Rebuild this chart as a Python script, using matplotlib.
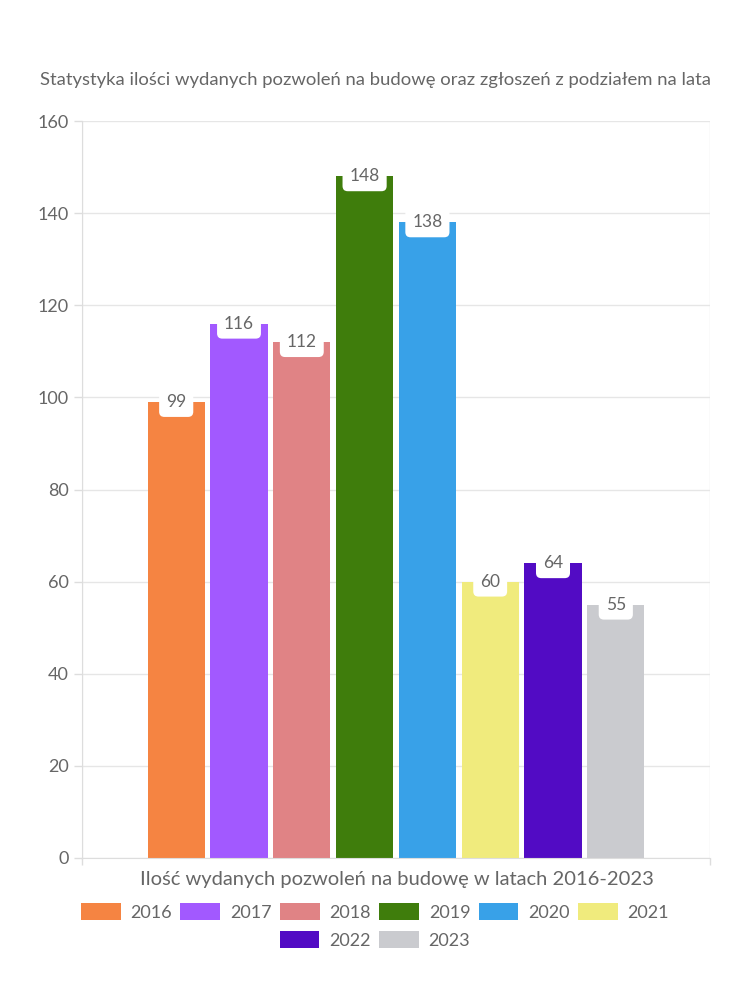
import matplotlib
matplotlib.use("Agg")
import matplotlib.pyplot as plt
from matplotlib.patches import Patch

years = ["2016", "2017", "2018", "2019", "2020", "2021", "2022", "2023"]
values = [99, 116, 112, 148, 138, 60, 64, 55]
colors = ["#F58442", "#A259FF", "#E08385", "#3F7D0C", "#38A1E8", "#F0EB7D", "#520BC4", "#CACBCF"]
title = "Statystyka ilości wydanych pozwoleń na budowę oraz zgłoszeń z podziałem na lata"
xlabel = "Ilość wydanych pozwoleń na budowę w latach 2016-2023"
yticks = [0, 20, 40, 60, 80, 100, 120, 140, 160]

plt.rcParams['font.family'] = ['Lato', 'DejaVu Sans']
txt = "#666666"

fig = plt.figure(figsize=(7.5, 10), dpi=100)
ax = fig.add_axes([82/750, 1-858/1000, 628/750, (858-121)/1000])

n = len(values)
slot = 0.8 / n
for i, (v, c) in enumerate(zip(values, colors)):
    x = (i - (n - 1) / 2) * slot
    ax.bar(x, v, width=slot * 0.91, color=c, zorder=2)
    ax.annotate(str(v), (x, v), xytext=(0, 0), textcoords="offset points",
                ha="center", va="center", fontsize=12.5, color=txt, zorder=4,
                bbox=dict(boxstyle="round,pad=0.4,rounding_size=0.3", fc="white", ec="none"))

ax.set_xlim(-0.5, 0.5)
ax.set_ylim(0, 160)
ax.set_yticks(yticks)
ax.set_xticks([-0.5, 0.5])
ax.set_xticklabels(["", ""])
ax.tick_params(axis="y", colors="#dddddd", labelcolor=txt, labelsize=13, length=6, width=1)
ax.tick_params(axis="x", colors="#dddddd", length=5, width=1)
ax.grid(axis="y", color="#e6e6e6", linewidth=1, zorder=0)
ax.grid(axis="x", color="#e6e6e6", linewidth=1, zorder=0)
for s in ax.spines.values():
    s.set_color("#dddddd")
ax.spines["top"].set_visible(False)
ax.spines["right"].set_visible(False)

fig.text(375/750, 1-80/1000, title, ha="center", va="center", fontsize=13.3, color=txt)
fig.text(397/750, 1-880/1000, xlabel, ha="center", va="center", fontsize=14.5, color=txt)

handles = [Patch(facecolor=c, edgecolor="none") for c in colors]
kw = dict(frameon=False, fontsize=13, handlelength=2.2, handleheight=1.0,
          columnspacing=0.45, handletextpad=0.55, labelcolor=txt, borderpad=0.2)
leg1 = fig.legend(handles[:6], years[:6], ncol=6, loc="center",
                  bbox_to_anchor=(375/750, 1-912/1000), **kw)
leg2 = fig.legend(handles[6:], years[6:], ncol=2, loc="center",
                  bbox_to_anchor=(375/750, 1-940/1000), **kw)

fig.savefig("out.png", dpi=100, facecolor="white")
